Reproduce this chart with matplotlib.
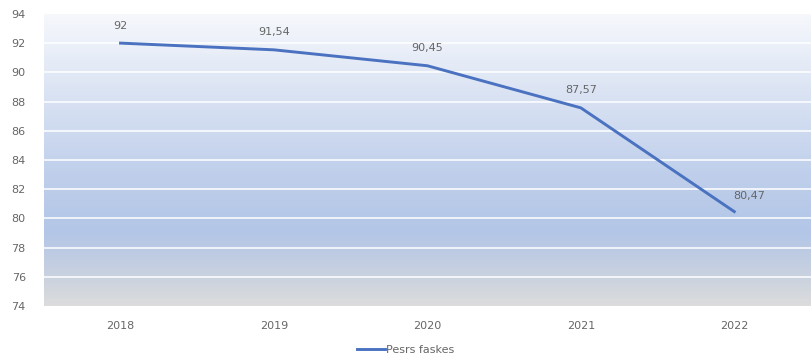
import matplotlib.pyplot as plt
import numpy as np
from matplotlib.colors import LinearSegmentedColormap

years = ['2018', '2019', '2020', '2021', '2022']
values = [92, 91.54, 90.45, 87.57, 80.47]
series_name = 'Pesrs faskes'

fig = plt.figure(figsize=(8.11, 3.56), dpi=100)
ax = fig.add_axes([0.054, 0.14, 0.946, 0.821])

x = np.arange(len(years))
ax.set_xlim(-0.5, len(years) - 0.5)
ax.set_ylim(74, 94)

# gradient background: white -> blue -> grey
cmap = LinearSegmentedColormap.from_list(
    'bg', [(0.0, '#dcdcdc'), (0.12, '#c6d0e0'), (0.25, '#b3c6e7'),
           (0.45, '#bfcfeb'), (0.75, '#dde5f4'), (1.0, '#f6f8fc')])
grad = np.linspace(0, 1, 256).reshape(-1, 1)
ax.imshow(grad, aspect='auto', cmap=cmap, origin='lower',
          extent=(-0.5, len(years) - 0.5, 74, 94), zorder=0)

for yv in range(76, 94, 2):
    ax.axhline(yv, color='white', lw=1.3, alpha=0.85, zorder=1)

ax.plot(x, values, color='#4a72c0', lw=2.1, zorder=3, label=series_name)

for i, v in enumerate(values):
    lbl = f'{v:g}'.replace('.', ',')
    if i == len(values) - 1:
        ax.annotate(lbl, (x[i], v), xytext=(11, 11), textcoords='offset points',
                    ha='center', va='center', fontsize=8, color='#666666', zorder=4)
    else:
        ax.annotate(lbl, (x[i], v), xytext=(0, 9), textcoords='offset points',
                    ha='center', va='bottom', fontsize=8, color='#666666', zorder=4)

ax.set_xticks(x)
ax.set_xticklabels(years)
ax.set_yticks(range(74, 95, 2))
ax.tick_params(length=0, labelsize=8, labelcolor='#666666')
ax.tick_params(axis='x', pad=11)
ax.tick_params(axis='y', pad=13)
for s in ax.spines.values():
    s.set_visible(False)

fig.legend(loc='lower center', bbox_to_anchor=(0.5, -0.025), frameon=False,
           fontsize=8, labelcolor='#666666', handlelength=2.5, handletextpad=0.1)

fig.savefig('out.png', dpi=100)
